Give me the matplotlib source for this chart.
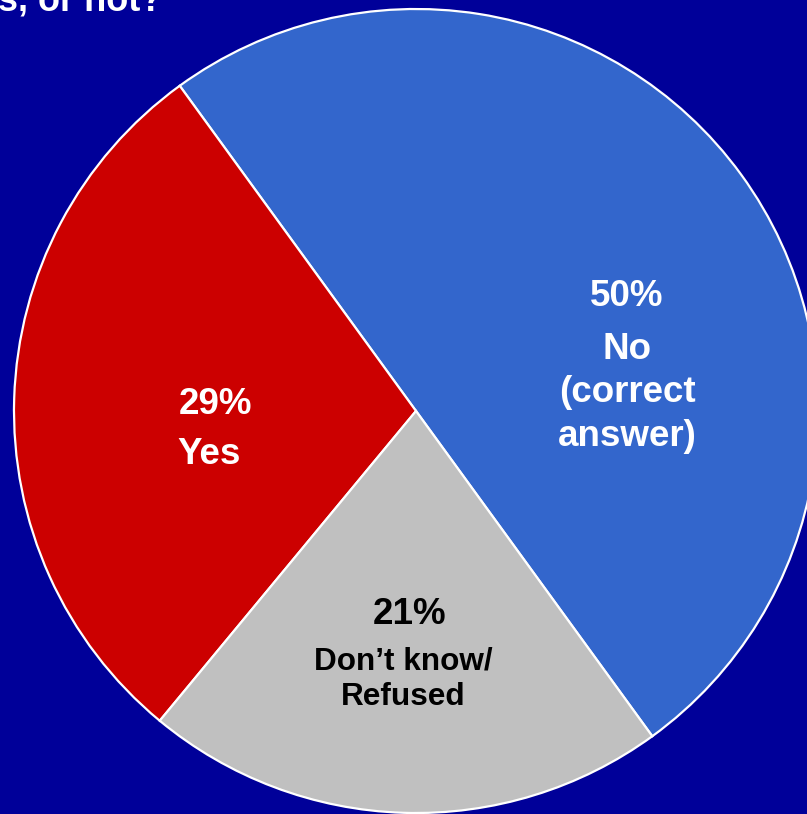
import matplotlib.pyplot as plt

plt.rcParams['font.family'] = ['Liberation Sans', 'DejaVu Sans']

# answer shares, counter-clockwise from the No slice
labels = ['No', 'Yes', 'Don\u2019t know/Refused']
shares = [50, 29, 21]
colors = ['#3366CC', '#CC0000', '#C0C0C0']

fig = plt.figure(figsize=(8.07, 8.14), dpi=100, facecolor='#000099')
ax = fig.add_axes([0, 0, 1, 1])
ax.set_facecolor('#000099')

ax.pie(shares, colors=colors, startangle=-54, counterclock=True,
       center=(416, 403), radius=402,
       wedgeprops=dict(edgecolor='white', linewidth=1.6))
ax.set_xlim(0, 807)
ax.set_ylim(0, 814)
ax.set_aspect('auto')
ax.axis('off')

# slice labels
ax.text(627, 814 - 296, f'{shares[0]}%', color='white', fontsize=26.5,
        fontweight='bold', ha='center', va='center')
ax.text(627, 814 - 393, 'No\n(correct\nanswer)', color='white', fontsize=26.5,
        fontweight='bold', ha='center', va='center', linespacing=1.3)
ax.text(216, 814 - 405, f'{shares[1]}%', color='white', fontsize=26.5,
        fontweight='bold', ha='center', va='center')
ax.text(209, 814 - 455, labels[1], color='white', fontsize=26.5,
        fontweight='bold', ha='center', va='center')
ax.text(410, 814 - 614, f'{shares[2]}%', color='black', fontsize=26.5,
        fontweight='bold', ha='center', va='center')
ax.text(403, 814 - 679, 'Don\u2019t know/\nRefused', color='black', fontsize=22.7,
        fontweight='bold', ha='center', va='center', linespacing=1.25)

# title, cut off at the top edge as in the source slide
ax.text(-2, 814 - 11, 's, or not?', color='white', fontsize=26,
        fontweight='bold', ha='left', va='baseline')

fig.savefig('out.png', dpi=100, facecolor=fig.get_facecolor())
